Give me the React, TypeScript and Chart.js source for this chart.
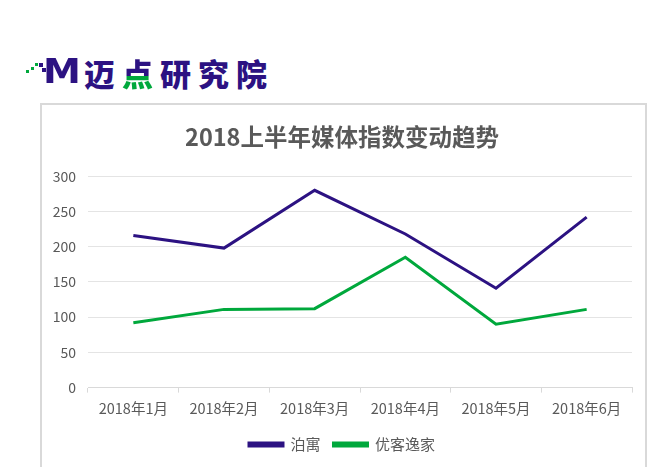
import React, { useEffect, useRef } from "react";
import { Chart, registerables } from "chart.js";

Chart.register(...registerables);

const months = ["2018年1月", "2018年2月", "2018年3月", "2018年4月", "2018年5月", "2018年6月"];
const boyuValues = [216, 198, 280, 218, 141, 242];
const youkeValues = [92, 111, 112, 185, 90, 111];
const yTicks = [0, 50, 100, 150, 200, 250, 300];

const PURPLE = "#2c1282";
const GREEN = "#00a83c";
const TEXT = "#595959";
const FONT = "'Noto Sans CJK SC', 'Noto Sans', sans-serif";

const Logo: React.FC = () => {
  const sq = (x: number, y: number, s: number, c: string) => (
    <span
      key={`${x}-${y}`}
      style={{ position: "absolute", left: x, top: y, width: s, height: s, background: c }}
    />
  );
  return (
    <div style={{ position: "absolute", left: 0, top: 0 }}>
      {sq(26, 70, 3, GREEN)}
      {sq(31, 67, 3, GREEN)}
      {sq(35, 63, 3, GREEN)}
      {sq(39, 63, 4, PURPLE)}
      {sq(42, 68, 4, PURPLE)}
      <span
        style={{
          position: "absolute",
          left: 43,
          top: 51,
          fontFamily: "'DejaVu Sans', sans-serif",
          fontWeight: 900,
          fontSize: 34,
          color: PURPLE,
          transform: "scaleX(1.12)",
          transformOrigin: "left",
          lineHeight: "40px",
        }}
      >
        M
      </span>
      <span
        style={{
          position: "absolute",
          left: 84,
          top: 53,
          fontFamily: FONT,
          fontWeight: 900,
          fontSize: 31,
          color: PURPLE,
          letterSpacing: 7,
          lineHeight: "40px",
          whiteSpace: "nowrap",
        }}
      >
        迈
        <span
          style={{
            background: `linear-gradient(${PURPLE} 0%, ${PURPLE} 58%, ${GREEN} 58%, ${GREEN} 100%)`,
            WebkitBackgroundClip: "text",
            backgroundClip: "text",
            color: "transparent",
          }}
        >
          点
        </span>
        研究院
      </span>
    </div>
  );
};

const App: React.FC = () => {
  const canvasRef = useRef<HTMLCanvasElement | null>(null);
  const chartRef = useRef<Chart | null>(null);

  useEffect(() => {
    if (!canvasRef.current) return;
    if (chartRef.current) chartRef.current.destroy();

    chartRef.current = new Chart(canvasRef.current, {
      type: "line",
      data: {
        labels: months,
        datasets: [
          {
            label: "泊寓",
            data: boyuValues,
            borderColor: PURPLE,
            backgroundColor: PURPLE,
            borderWidth: 3,
            pointRadius: 0,
            tension: 0,
          },
          {
            label: "优客逸家",
            data: youkeValues,
            borderColor: GREEN,
            backgroundColor: GREEN,
            borderWidth: 3,
            pointRadius: 0,
            tension: 0,
          },
        ],
      },
      options: {
        animation: false,
        responsive: true,
        maintainAspectRatio: false,
        layout: { padding: { left: 10, right: 13, top: 0, bottom: 5 } },
        plugins: {
          title: {
            display: true,
            text: "2018上半年媒体指数变动趋势",
            color: TEXT,
            font: { family: FONT, size: 23.5, weight: "bold" },
            padding: { top: 18, bottom: 25 },
          },
          legend: {
            position: "bottom",
            labels: {
              color: TEXT,
              font: { family: FONT, size: 15 },
              boxWidth: 34,
              boxHeight: 3,
              padding: 13,
            },
          },
          tooltip: { enabled: false },
        },
        scales: {
          x: {
            offset: true,
            grid: {
              display: true,
              drawOnChartArea: false,
              drawTicks: true,
              tickLength: 5,
              color: "#d9d9d9",
              offset: true,
            },
            border: { display: true, color: "#d9d9d9", width: 1 },
            ticks: {
              color: TEXT,
              font: { family: FONT, size: 14.5 },
              padding: 7,
              maxRotation: 0,
            },
          },
          y: {
            min: yTicks[0],
            max: yTicks[yTicks.length - 1],
            afterBuildTicks: (axis) => {
              axis.ticks = yTicks.map((v) => ({ value: v }));
            },
            afterFit: (axis) => {
              axis.width = 36;
            },
            grid: { color: "#e4e4e4", drawTicks: false },
            border: { display: false },
            ticks: {
              color: TEXT,
              font: { family: FONT, size: 14 },
              padding: 12,
            },
          },
        },
      },
    });

    return () => {
      if (chartRef.current) {
        chartRef.current.destroy();
        chartRef.current = null;
      }
    };
  }, []);

  return (
    <div
      style={{
        position: "fixed",
        left: 0,
        top: 0,
        width: 650,
        height: 468,
        background: "#fff",
        overflow: "hidden",
      }}
    >
      <Logo />
      <div
        style={{
          position: "absolute",
          left: 40,
          top: 103,
          width: 603,
          height: 362,
          border: "2px solid #d9d9d9",
          borderBottom: "none",
          boxSizing: "content-box",
        }}
      >
        <canvas ref={canvasRef} />
      </div>
    </div>
  );
};

export default App;
